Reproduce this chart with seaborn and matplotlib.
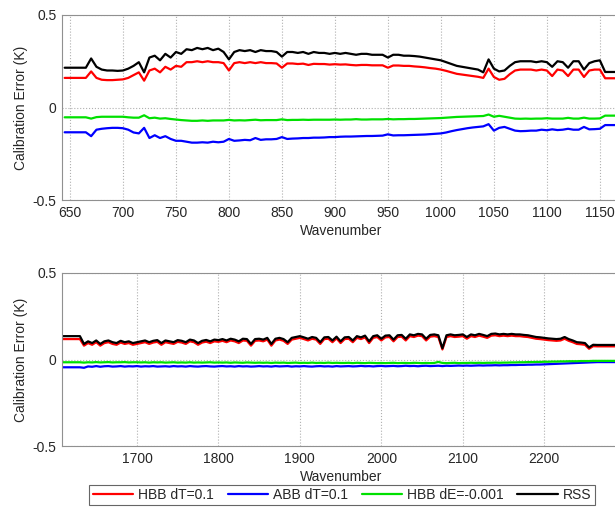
import numpy as np
import pandas as pd
import matplotlib
matplotlib.use("Agg")
import matplotlib.pyplot as plt
import seaborn as sns

# Estilo tipo MATLAB: fondo blanco, rejilla punteada
sns.set_theme(style="white")
plt.rcParams['font.family'] = ['Liberation Sans', 'DejaVu Sans']
plt.rcParams.update({'font.size': 10})

SERIES = ["HBB dT=0.1", "ABB dT=0.1", "HBB dE=-0.001", "RSS"]
COLORES = ["#ff0000", "#0000ff", "#00e000", "#000000"]

# --- Banda 1: 645..1180 cada 5 cm-1 ---
WN_TOP = np.arange(645, 1181, 5)

HBB_DT_TOP = [
    0.16, 0.16, 0.16, 0.16, 0.16, 0.195, 0.16, 0.15, 0.148, 0.148,       # 645
    0.15, 0.152, 0.16, 0.175, 0.19, 0.145, 0.2, 0.21, 0.19, 0.22,         # 695
    0.205, 0.225, 0.22, 0.245, 0.245, 0.25, 0.245, 0.25, 0.245, 0.245,   # 745
    0.24, 0.2, 0.24, 0.245, 0.24, 0.245, 0.24, 0.245, 0.24, 0.24,         # 795
    0.238, 0.215, 0.238, 0.238, 0.235, 0.237, 0.23, 0.236, 0.235, 0.235, # 845
    0.232, 0.234, 0.232, 0.233, 0.23, 0.228, 0.23, 0.23, 0.228, 0.228,   # 895
    0.228, 0.215, 0.227, 0.227, 0.225, 0.225, 0.222, 0.22, 0.217, 0.213, # 945
    0.21, 0.205, 0.198, 0.19, 0.182, 0.178, 0.174, 0.17, 0.166, 0.16,    # 995
    0.21, 0.165, 0.15, 0.155, 0.18, 0.2, 0.205, 0.205, 0.205, 0.2,       # 1045
    0.205, 0.2, 0.17, 0.205, 0.2, 0.17, 0.205, 0.205, 0.165, 0.2,        # 1095
    0.205, 0.205, 0.158, 0.158, 0.158, 0.158, 0.158, 0.158,              # 1145
]
ABB_DT_TOP = [
    -0.134, -0.134, -0.134, -0.134, -0.134, -0.155, -0.12, -0.115, -0.112, -0.11,
    -0.11, -0.112, -0.12, -0.135, -0.14, -0.11, -0.165, -0.15, -0.165, -0.155,
    -0.17, -0.18, -0.18, -0.185, -0.19, -0.19, -0.188, -0.19, -0.185, -0.188,
    -0.185, -0.17, -0.18, -0.178, -0.175, -0.177, -0.165, -0.175, -0.172, -0.172,
    -0.17, -0.16, -0.17, -0.168, -0.167, -0.165, -0.165, -0.163, -0.163, -0.162,
    -0.16, -0.16, -0.158, -0.157, -0.157, -0.156, -0.155, -0.154, -0.154, -0.153,
    -0.152, -0.145, -0.151, -0.15, -0.15, -0.149, -0.148, -0.147, -0.146, -0.144,
    -0.142, -0.14, -0.135, -0.128, -0.122, -0.117, -0.112, -0.108, -0.105, -0.102,
    -0.09, -0.125, -0.11, -0.105, -0.115, -0.125, -0.128, -0.127, -0.125, -0.125,
    -0.12, -0.123, -0.118, -0.122, -0.12, -0.115, -0.12, -0.12, -0.105, -0.118,
    -0.117, -0.115, -0.095, -0.095, -0.095, -0.095, -0.095, -0.095,
]
HBB_DE_TOP = [
    -0.053, -0.053, -0.053, -0.053, -0.053, -0.06, -0.052, -0.05, -0.05, -0.05,
    -0.05, -0.05, -0.053, -0.055, -0.055, -0.042, -0.058, -0.055, -0.06, -0.058,
    -0.062, -0.065, -0.068, -0.07, -0.072, -0.072, -0.07, -0.072, -0.07, -0.07,
    -0.07, -0.067, -0.07, -0.069, -0.07, -0.068, -0.066, -0.069, -0.068, -0.068,
    -0.068, -0.064, -0.068, -0.067, -0.067, -0.066, -0.067, -0.066, -0.066, -0.066,
    -0.066, -0.065, -0.066, -0.065, -0.065, -0.063, -0.065, -0.065, -0.064, -0.064,
    -0.064, -0.062, -0.064, -0.063, -0.063, -0.062, -0.062, -0.061, -0.06, -0.059,
    -0.058, -0.057, -0.055, -0.053, -0.051, -0.05, -0.049, -0.048, -0.047, -0.046,
    -0.038, -0.05, -0.045, -0.05, -0.055, -0.06, -0.061, -0.06, -0.061, -0.06,
    -0.06, -0.058, -0.06, -0.06, -0.06, -0.056, -0.06, -0.06, -0.055, -0.06,
    -0.06, -0.059, -0.044, -0.044, -0.044, -0.044, -0.044, -0.044,
]
RSS_TOP = [
    0.215, 0.215, 0.215, 0.215, 0.215, 0.265, 0.22, 0.205, 0.2, 0.2,
    0.198, 0.2, 0.21, 0.225, 0.245, 0.19, 0.27, 0.28, 0.255, 0.29,
    0.27, 0.3, 0.29, 0.315, 0.31, 0.322, 0.315, 0.322, 0.31, 0.318,
    0.3, 0.26, 0.3, 0.31, 0.305, 0.31, 0.3, 0.31, 0.305, 0.305,
    0.3, 0.275, 0.3, 0.3, 0.295, 0.3, 0.29, 0.3, 0.295, 0.295,
    0.29, 0.295, 0.29, 0.295, 0.29, 0.285, 0.29, 0.29, 0.285, 0.285,
    0.285, 0.27, 0.285, 0.285, 0.28, 0.28, 0.278, 0.275, 0.27, 0.265,
    0.26, 0.255, 0.245, 0.235, 0.225, 0.22, 0.215, 0.21, 0.205, 0.19,
    0.26, 0.21, 0.195, 0.2, 0.225, 0.245, 0.25, 0.25, 0.25, 0.245,
    0.25, 0.245, 0.22, 0.25, 0.245, 0.215, 0.25, 0.25, 0.205, 0.24,
    0.25, 0.255, 0.192, 0.192, 0.192, 0.192, 0.192, 0.192,
]

# --- Banda 3: 1605..2300 cada 5 cm-1 ---
WN_BOT = np.arange(1605, 2301, 5)

HBB_DT_BOT = [
    0.118, 0.118, 0.118, 0.118, 0.118, 0.118, 0.08, 0.095, 0.085, 0.1,     # 1605
    0.08, 0.095, 0.1, 0.09, 0.085, 0.098, 0.09, 0.095, 0.085, 0.09,        # 1655
    0.095, 0.1, 0.09, 0.098, 0.102, 0.085, 0.1, 0.095, 0.09, 0.102,        # 1705
    0.098, 0.09, 0.105, 0.1, 0.085, 0.098, 0.103, 0.095, 0.105, 0.102,     # 1755
    0.108, 0.1, 0.11, 0.105, 0.095, 0.11, 0.108, 0.08, 0.108, 0.11,        # 1805
    0.105, 0.115, 0.08, 0.11, 0.115, 0.108, 0.09, 0.115, 0.12, 0.125,      # 1855
    0.118, 0.11, 0.12, 0.115, 0.09, 0.118, 0.12, 0.1, 0.122, 0.095,        # 1905
    0.118, 0.12, 0.1, 0.125, 0.118, 0.128, 0.095, 0.125, 0.13, 0.11,       # 1955
    0.128, 0.13, 0.105, 0.13, 0.132, 0.11, 0.135, 0.13, 0.138, 0.135,      # 2005
    0.11, 0.132, 0.135, 0.13, 0.058, 0.13, 0.135, 0.13, 0.132, 0.135,      # 2055
    0.12, 0.135, 0.13, 0.138, 0.132, 0.125, 0.138, 0.14, 0.135, 0.138,     # 2105
    0.135, 0.138, 0.135, 0.135, 0.132, 0.13, 0.125, 0.12, 0.118, 0.115,    # 2155
    0.112, 0.11, 0.108, 0.11, 0.12, 0.108, 0.1, 0.09, 0.088, 0.085,        # 2205
    0.062, 0.077, 0.076, 0.076, 0.076, 0.076, 0.076, 0.076, 0.076, 0.076,  # 2255
]
ABB_DT_BOT = [
    -0.045, -0.045, -0.045, -0.045, -0.045, -0.045, -0.048, -0.04, -0.042, -0.038,
    -0.042, -0.039, -0.038, -0.041, -0.04, -0.038, -0.041, -0.039, -0.04, -0.038,
    -0.041, -0.039, -0.04, -0.038, -0.041, -0.04, -0.039, -0.041, -0.038, -0.04,
    -0.039, -0.041, -0.038, -0.04, -0.041, -0.039, -0.038, -0.04, -0.041, -0.039,
    -0.038, -0.04, -0.039, -0.041, -0.038, -0.04, -0.039, -0.041, -0.04, -0.038,
    -0.04, -0.039, -0.041, -0.038, -0.04, -0.039, -0.038, -0.041, -0.039, -0.04,
    -0.038, -0.04, -0.041, -0.039, -0.038, -0.04, -0.039, -0.041, -0.038, -0.04,
    -0.039, -0.038, -0.04, -0.039, -0.037, -0.039, -0.038, -0.04, -0.038, -0.037,
    -0.039, -0.038, -0.037, -0.039, -0.038, -0.036, -0.038, -0.037, -0.039, -0.037,
    -0.036, -0.038, -0.037, -0.036, -0.038, -0.036, -0.037, -0.036, -0.035, -0.036,
    -0.035, -0.036, -0.035, -0.034, -0.035, -0.034, -0.034, -0.033, -0.034, -0.033,
    -0.033, -0.032, -0.032, -0.031, -0.031, -0.03, -0.03, -0.029, -0.029, -0.028,
    -0.027, -0.026, -0.025, -0.024, -0.023, -0.022, -0.021, -0.02, -0.019, -0.018,
    -0.017, -0.016, -0.015, -0.015, -0.015, -0.015, -0.015, -0.015, -0.015, -0.015,
]
HBB_DE_BOT = [
    -0.016, -0.016, -0.016, -0.016, -0.016, -0.016, -0.018, -0.016, -0.017, -0.015,
    -0.017, -0.016, -0.015, -0.017, -0.016, -0.016, -0.015, -0.017, -0.016, -0.016,
    -0.017, -0.016, -0.018, -0.016, -0.017, -0.016, -0.018, -0.017, -0.016, -0.018,
    -0.017, -0.018, -0.016, -0.018, -0.017, -0.018, -0.017, -0.016, -0.018, -0.017,
    -0.018, -0.017, -0.019, -0.017, -0.018, -0.019, -0.017, -0.018, -0.019, -0.018,
    -0.019, -0.018, -0.02, -0.018, -0.019, -0.018, -0.02, -0.019, -0.018, -0.02,
    -0.019, -0.02, -0.018, -0.02, -0.019, -0.02, -0.018, -0.02, -0.019, -0.02,
    -0.02, -0.019, -0.021, -0.019, -0.02, -0.021, -0.019, -0.02, -0.021, -0.02,
    -0.021, -0.02, -0.019, -0.021, -0.02, -0.02, -0.021, -0.019, -0.02, -0.021,
    -0.02, -0.021, -0.02, -0.014, -0.02, -0.021, -0.02, -0.019, -0.021, -0.02,
    -0.02, -0.019, -0.02, -0.019, -0.02, -0.019, -0.019, -0.018, -0.019, -0.018,
    -0.018, -0.017, -0.017, -0.016, -0.016, -0.015, -0.015, -0.014, -0.014, -0.013,
    -0.013, -0.012, -0.012, -0.011, -0.011, -0.01, -0.01, -0.01, -0.009, -0.009,
    -0.009, -0.008, -0.008, -0.008, -0.008, -0.008, -0.008, -0.008, -0.008, -0.008,
]
RSS_BOT = [
    0.135, 0.135, 0.135, 0.135, 0.135, 0.135, 0.09, 0.105, 0.095, 0.11,
    0.09, 0.105, 0.11, 0.1, 0.095, 0.108, 0.1, 0.105, 0.095, 0.1,
    0.105, 0.11, 0.1, 0.108, 0.112, 0.095, 0.11, 0.105, 0.1, 0.112,
    0.108, 0.1, 0.115, 0.11, 0.095, 0.108, 0.113, 0.105, 0.115, 0.112,
    0.118, 0.11, 0.12, 0.115, 0.105, 0.12, 0.118, 0.09, 0.118, 0.12,
    0.115, 0.125, 0.09, 0.12, 0.125, 0.118, 0.1, 0.125, 0.13, 0.135,
    0.128, 0.12, 0.13, 0.125, 0.1, 0.128, 0.13, 0.11, 0.132, 0.105,
    0.128, 0.13, 0.11, 0.135, 0.128, 0.138, 0.105, 0.135, 0.14, 0.12,
    0.138, 0.14, 0.115, 0.14, 0.142, 0.12, 0.145, 0.14, 0.148, 0.145,
    0.12, 0.142, 0.145, 0.14, 0.065, 0.14, 0.145, 0.14, 0.142, 0.145,
    0.13, 0.145, 0.14, 0.148, 0.142, 0.135, 0.148, 0.15, 0.145, 0.148,
    0.145, 0.148, 0.145, 0.145, 0.142, 0.14, 0.135, 0.13, 0.128, 0.125,
    0.122, 0.12, 0.118, 0.12, 0.13, 0.118, 0.11, 0.1, 0.098, 0.095,
    0.07, 0.085, 0.084, 0.084, 0.084, 0.084, 0.084, 0.084, 0.084, 0.084,
]


def armar_df(wn, valores):
    partes = []
    for nombre, v in zip(SERIES, valores):
        partes.append(pd.DataFrame({"wn": wn, "err": v, "serie": nombre}))
    return pd.concat(partes, ignore_index=True)


def dibujar_panel(ax, df, xlim, xticks):
    sns.lineplot(data=df, x="wn", y="err", hue="serie", hue_order=SERIES,
                 palette=COLORES, linewidth=1.6, estimator=None, sort=False,
                 legend=False, ax=ax)
    ax.set_xlim(*xlim)
    ax.set_ylim(-0.5, 0.5)
    ax.set_xticks(xticks)
    ax.set_yticks([-0.5, 0, 0.5])
    ax.set_yticklabels(["-0.5", "0", "0.5"])
    ax.grid(True, linestyle=":", color="#b0b0b0", linewidth=0.8)
    ax.tick_params(direction="in", length=3, color="#808080", labelsize=10,
                   labelcolor="#262626", pad=4)
    for s in ax.spines.values():
        s.set_color("#909090")
        s.set_linewidth(0.8)
    ax.set_xlabel("Wavenumber", fontsize=10, color="#262626", labelpad=3)
    ax.set_ylabel("Calibration Error (K)", fontsize=10, color="#262626", labelpad=3)


fig = plt.figure(figsize=(6.15, 5.08), dpi=100)
ax1 = fig.add_axes([62 / 615, 1 - 200 / 508, 558 / 615, 185 / 508])
ax2 = fig.add_axes([62 / 615, 1 - 446 / 508, 558 / 615, 173 / 508])

dibujar_panel(ax1, armar_df(WN_TOP, [HBB_DT_TOP, ABB_DT_TOP, HBB_DE_TOP, RSS_TOP]),
              (642.5, 1169), range(650, 1151, 50))
dibujar_panel(ax2, armar_df(WN_BOT, [HBB_DT_BOT, ABB_DT_BOT, HBB_DE_BOT, RSS_BOT]),
              (1608, 2293), range(1700, 2201, 100))

handles = ax1.get_lines()[:4]
leg = fig.legend(handles, SERIES, loc="center", ncol=4,
                 bbox_to_anchor=(342 / 615, 1 - 495 / 508), frameon=True,
                 fancybox=False, fontsize=10, handlelength=2.9,
                 columnspacing=1.0, handletextpad=0.35, borderpad=0.25,
                 borderaxespad=0.2)
leg.get_frame().set_edgecolor("#404040")
leg.get_frame().set_linewidth(0.8)

fig.savefig("out.png", dpi=100)
